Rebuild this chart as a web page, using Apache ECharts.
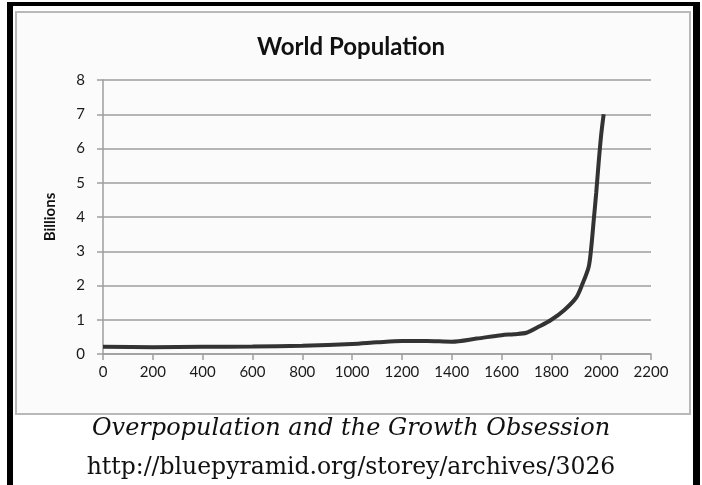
<!DOCTYPE html>
<html>
<head>
<meta charset="utf-8">
<title>World Population</title>
<script src="https://cdn.jsdelivr.net/npm/echarts@6/dist/echarts.min.js"></script>
<style>
    html, body {
        margin: 0;
        padding: 0;
        background: #ffffff;
    }
    .page {
        position: relative;
        width: 702px;
        height: 485px;
        overflow: hidden;
    }
    /* black frame round the figure, open at the bottom */
    .frame {
        position: absolute;
        left: 7px;
        top: 2px;
        width: 680px;
        height: 520px;
        border-top: 4px solid #000;
        border-left: 6px solid #000;
        border-right: 7px solid #000;
    }
    .chart-box {
        position: absolute;
        left: 15px;
        top: 11px;
        width: 672px;
        height: 400px;
        border: 2px solid #b9b9b9;
        background: #fbfbfb;
    }
    #chartLine {
        position: absolute;
        left: 0;
        top: 0;
        width: 702px;
        height: 485px;
    }
    .caption {
        position: absolute;
        left: 0;
        width: 702px;
        text-align: center;
        font-family: "DejaVu Serif", serif;
        font-size: 24px;
        line-height: 24px;
        color: #111;
    }
    .caption.title {
        top: 415px;
        font-style: italic;
    }
    .caption.url {
        top: 454px;
        font-size: 23.5px;
    }
</style>
</head>
<body>
<div class="page">
    <div class="frame"></div>
    <div class="chart-box"></div>
    <div id="chartLine"></div>
    <div class="caption title">Overpopulation and the Growth Obsession</div>
    <div class="caption url">http://bluepyramid.org/storey/archives/3026</div>
</div>

<script>
    // years and world population (billions)
    var years = [0, 200, 400, 600, 800, 1000, 1100, 1200, 1300, 1400, 1500, 1600, 1650, 1700,
        1750, 1800, 1850, 1900, 1925, 1950, 1960, 1970, 1980, 1990, 2000, 2010];
    var billions = [0.21, 0.2, 0.21, 0.22, 0.24, 0.29, 0.34, 0.38, 0.38, 0.36, 0.45, 0.55, 0.58, 0.62,
        0.8, 1.0, 1.27, 1.65, 2.05, 2.55, 3.1, 3.9, 4.7, 5.6, 6.4, 7.0];

    // tick labels
    var xTicks = ['0', '200', '400', '600', '800', '1000', '1200', '1400', '1600', '1800', '2000', '2200'];
    var yTicks = ['0', '1', '2', '3', '4', '5', '6', '7', '8'];

    var points = [];
    for (var i = 0; i < years.length; i++) {
        points.push([years[i], billions[i]]);
    }

    var gridGray = '#9e9e9e';
    var labelFont = 'Lato, "Open Sans", sans-serif';

    var chartLine = echarts.init(document.getElementById('chartLine'));
    chartLine.setOption({
        animation: false,
        title: {
            text: 'World Population',
            left: 'center',
            top: 30,
            textStyle: {
                fontFamily: labelFont,
                fontSize: 24,
                fontWeight: 'bold',
                color: '#111'
            }
        },
        grid: {
            left: 103,
            right: 51,
            top: 80,
            bottom: 131
        },
        xAxis: {
            type: 'value',
            min: 0,
            max: 2200,
            interval: 200,
            axisLine: {
                show: true,
                lineStyle: {color: gridGray, width: 1.5}
            },
            axisTick: {
                show: true,
                length: 6,
                lineStyle: {color: gridGray, width: 1.5}
            },
            splitLine: {show: false},
            axisLabel: {
                margin: 11,
                fontFamily: labelFont,
                fontSize: 15,
                color: '#1a1a1a',
                formatter: function (v) {
                    return xTicks[Math.round(v / 200)];
                }
            }
        },
        yAxis: {
            type: 'value',
            min: 0,
            max: 8,
            interval: 1,
            name: 'Billions',
            nameLocation: 'middle',
            nameRotate: 90,
            nameGap: 45,
            nameTextStyle: {
                fontFamily: labelFont,
                fontSize: 15,
                fontWeight: 'bold',
                color: '#111'
            },
            axisLine: {
                show: true,
                lineStyle: {color: gridGray, width: 1.5}
            },
            axisTick: {
                show: true,
                length: 6,
                lineStyle: {color: gridGray, width: 1.5}
            },
            splitLine: {
                show: true,
                lineStyle: {color: gridGray, width: 1.5}
            },
            axisLabel: {
                margin: 18,
                fontFamily: labelFont,
                fontSize: 15,
                color: '#1a1a1a',
                formatter: function (v) {
                    return yTicks[Math.round(v)];
                }
            }
        },
        series: [
            {
                name: 'World Population',
                type: 'line',
                data: points,
                smooth: 0.3,
                showSymbol: false,
                lineStyle: {
                    color: '#333333',
                    width: 4
                }
            }
        ]
    });
</script>
</body>
</html>
